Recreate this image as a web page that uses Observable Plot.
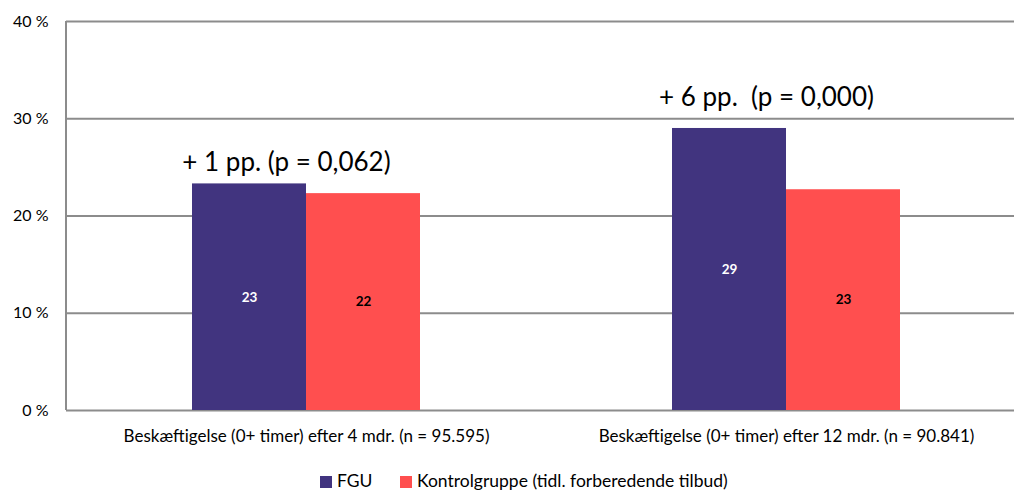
<!DOCTYPE html>
<html>
<head>
<meta charset="utf-8">
<script src="https://cdn.jsdelivr.net/npm/d3@7"></script>
<script src="https://cdn.jsdelivr.net/npm/@observablehq/plot@0.6"></script>
<style>
  body { margin: 0; background: #fff; font-family: Lato, "Noto Sans", sans-serif; }
  #chart svg { display: block; }
  #legend { position: relative; font-size: 17.5px; color: #000; height: 31px; }
  #legend .item { position: absolute; top: 10px; white-space: nowrap; }
  #legend span.sw { display: inline-block; width: 12px; height: 12px; margin-right: 5px; vertical-align: -1px; }
</style>
</head>
<body>
<div id="chart"></div>
<div id="legend"></div>
<script>
const groups = [
  "Beskæftigelse (0+ timer) efter 4 mdr. (n = 95.595)",
  "Beskæftigelse (0+ timer) efter 12 mdr. (n = 90.841)"
];
const series = ["FGU", "Kontrolgruppe (tidl. forberedende tilbud)"];
const fguValues = [23.3, 29.0];
const kontrolValues = [22.3, 22.7];
const fguLabels = ["23", "29"];
const kontrolLabels = ["22", "23"];
const annotations = ["+ 1 pp. (p = 0,062)", "+ 6 pp.  (p = 0,000)"];
const annotationY = [24.6, 31.3];
const yTicks = [0, 10, 20, 30, 40];
const colors = ["#41347F", "#FF4F4F"];

const fgu = groups.map((g, i) => ({group: g, value: fguValues[i], label: fguLabels[i]}));
const kontrol = groups.map((g, i) => ({group: g, value: kontrolValues[i], label: kontrolLabels[i]}));
const ann = groups.map((g, i) => ({group: g, text: annotations[i], y: annotationY[i]}));

const chart = Plot.plot({
  width: 1014,
  height: 460,
  marginLeft: 66,
  marginRight: 0,
  marginTop: 21,
  marginBottom: 50,
  style: {fontFamily: "Lato, 'Noto Sans', sans-serif", background: "#fff", color: "#000"},
  x: {domain: groups, range: [66, 1026], paddingInner: 0.525, paddingOuter: 0.2625, label: null},
  y: {domain: [0, 40], label: null},
  marks: [
    Plot.ruleY(yTicks, {stroke: "#8c8c8c", strokeWidth: 2}),
    Plot.barY(fgu, {x: "group", y: "value", fill: colors[0], insetRight: 114}),
    Plot.barY(kontrol, {x: "group", y: "value", fill: colors[1], insetLeft: 114}),
    Plot.text(fgu, {x: "group", y: d => d.value / 2, text: "label", dx: -57, fill: "#fff", fontWeight: "bold", fontSize: 13.5}),
    Plot.text(kontrol, {x: "group", y: d => d.value / 2, text: "label", dx: 57, fill: "#000", fontWeight: "bold", fontSize: 13.5}),
    Plot.text(ann, {x: "group", y: "y", text: "text", dx: -20, lineAnchor: "bottom", fontSize: 26, fill: "#000"}),
    Plot.axisY(yTicks, {tickSize: 0, tickPadding: 18, tickFormat: d => d + " %", fontSize: 16, fill: "#000"}),
    Plot.axisX({tickSize: 0, tickPadding: 19, fontSize: 17, fill: "#000"})
  ]
});
document.getElementById("chart").appendChild(chart);
d3.select(chart).append("line")
  .attr("x1", 66).attr("x2", 66).attr("y1", 21).attr("y2", 410)
  .attr("stroke", "#8c8c8c").attr("stroke-width", 2);

const legend = document.getElementById("legend");
const legendX = [320, 400];
series.forEach((s, i) => {
  const item = document.createElement("div");
  item.className = "item";
  item.style.left = legendX[i] + "px";
  item.innerHTML = `<span class="sw" style="background:${colors[i]}"></span>${s}`;
  legend.appendChild(item);
});
</script>
</body>
</html>
